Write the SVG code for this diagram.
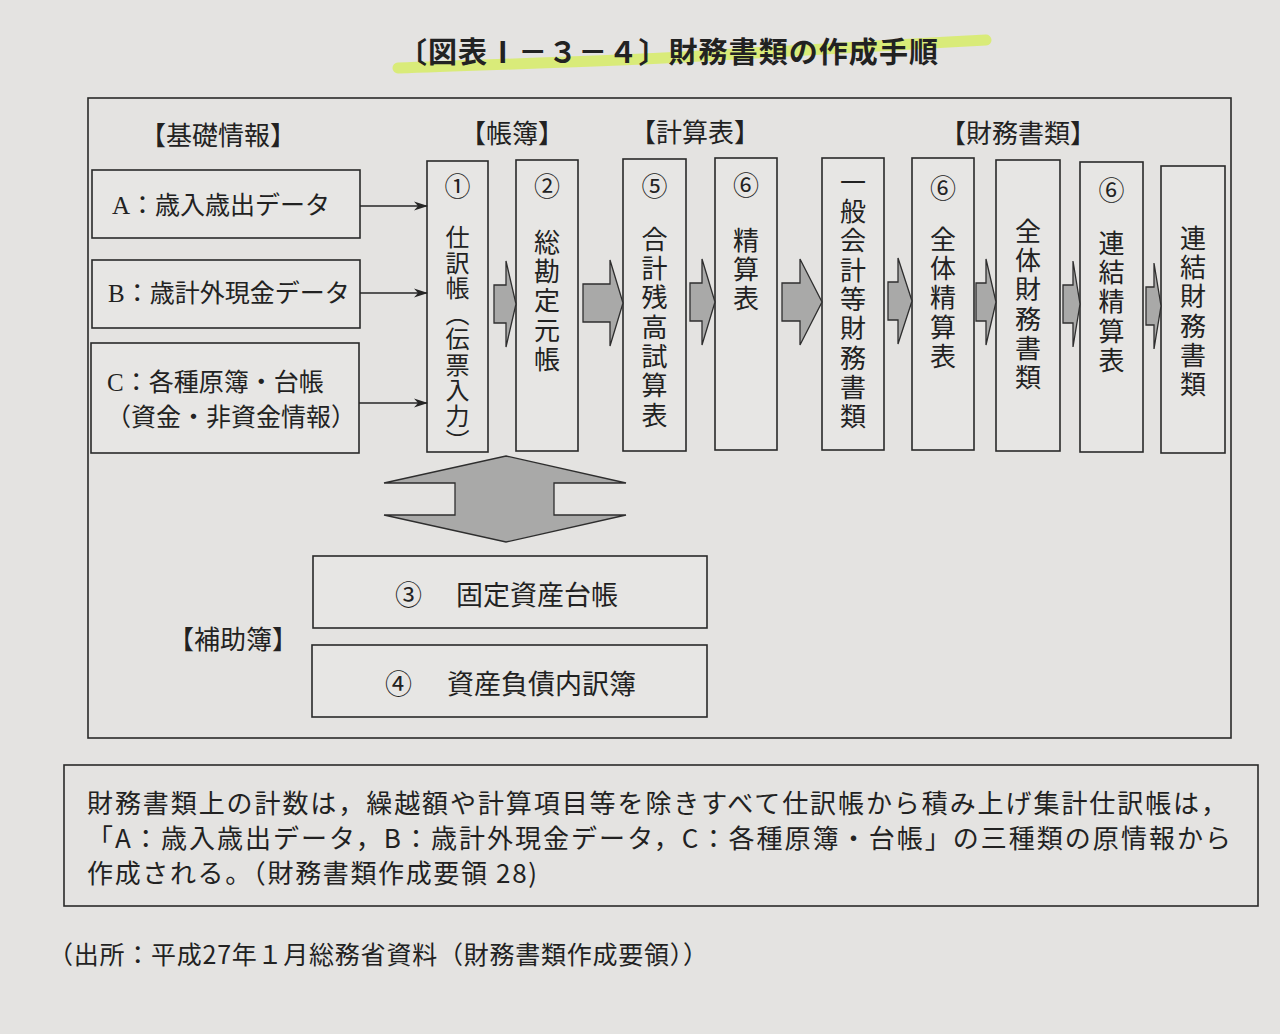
<svg xmlns="http://www.w3.org/2000/svg" width="1280" height="1034" viewBox="0 0 1280 1034">
<defs>
<marker id="ah" markerWidth="14" markerHeight="10" refX="13" refY="5" orient="auto" markerUnits="userSpaceOnUse">
<path d="M0,0.5 L14,5 L0,9.5 L4,5 Z" fill="#262626"/>
</marker>
<style>
.bg{fill:#e4e3e1}
.box{fill:#e7e6e4;stroke:#2a2a2a;stroke-width:1.6}
.frame{fill:none;stroke:#2a2a2a;stroke-width:1.6}
.blk{fill:#a9a9a8;stroke:#2e2e2e;stroke-width:1.3;stroke-linejoin:miter}
.line{stroke:#262626;stroke-width:1.5;fill:none}
text{font-family:"Noto Sans CJK JP","Noto Sans",sans-serif;fill:#222}
.lab{font-size:26px;dominant-baseline:central}
.h{font-size:25px;dominant-baseline:central}
.hs{font-family:"Liberation Serif","Noto Sans CJK JP",serif;font-size:25px;dominant-baseline:central}
.num{font-size:26px;text-anchor:middle;dominant-baseline:central}
.v{font-size:26px;writing-mode:vertical-rl;letter-spacing:3.3px}
.v1{font-size:24px;writing-mode:vertical-rl;letter-spacing:1.5px}
.note{font-size:26px;dominant-baseline:central}
.title{font-size:29px;font-weight:bold;dominant-baseline:central}
</style>
</defs>
<rect class="bg" x="0" y="0" width="1280" height="1034"/>

<g id="title">
<path d="M398,68 C500,64 600,62 700,56 C820,50 900,44 986,40" stroke="#d6ee55" stroke-opacity="0.75" stroke-width="11" fill="none" stroke-linecap="round"/>
<text class="title" x="398" y="50" textLength="540" lengthAdjust="spacing">〔図表Ⅰ－３－４〕財務書類の作成手順</text>
</g>

<rect id="frame" class="frame" x="88" y="98" width="1143" height="640"/>

<g id="section-labels">
<text class="lab" x="140" y="133">【基礎情報】</text>
<text class="lab" x="460" y="131">【帳簿】</text>
<text class="lab" x="630" y="130">【計算表】</text>
<text class="lab" x="940" y="131">【財務書類】</text>
<text class="lab" x="168" y="637">【補助簿】</text>
</g>

<g id="nodeA"><rect class="box" x="92" y="170" width="268" height="68"/><text class="hs" x="112" y="205">A：歳入歳出データ</text></g>
<g id="nodeB"><rect class="box" x="92" y="260" width="268" height="68"/><text class="hs" x="108" y="293">B：歳計外現金データ</text></g>
<g id="nodeC"><rect class="box" x="91" y="343" width="268" height="110"/><text class="hs" x="107" y="382">C：各種原簿・台帳</text><text class="h" x="106" y="415">（資金・非資金情報）</text></g>

<g id="node1"><rect class="box" x="427" y="161" width="61" height="291"/><text class="num" x="457.5" y="184">①</text><text class="v1" x="457.5" y="225">仕訳帳（伝票入力）</text></g>
<g id="node2"><rect class="box" x="516" y="160" width="62" height="291"/><text class="num" x="547" y="184">②</text><text class="v" x="547" y="229">総勘定元帳</text></g>
<g id="node5"><rect class="box" x="623" y="159" width="63" height="292"/><text class="num" x="654.5" y="184">⑤</text><text class="v" x="654.5" y="226">合計残高試算表</text></g>
<g id="node6a"><rect class="box" x="715" y="158" width="62" height="292"/><text class="num" x="746" y="183">⑥</text><text class="v" x="746" y="227">精算表</text></g>
<g id="nodeGen"><rect class="box" x="822" y="158" width="62" height="292"/><text class="v" x="853" y="169">一般会計等財務書類</text></g>
<g id="node6b"><rect class="box" x="912" y="158" width="62" height="292"/><text class="num" x="943" y="186">⑥</text><text class="v" x="943" y="226">全体精算表</text></g>
<g id="nodeAll"><rect class="box" x="996" y="160" width="64" height="291"/><text class="v" x="1028" y="218">全体財務書類</text></g>
<g id="node6c"><rect class="box" x="1080" y="162" width="63" height="290"/><text class="num" x="1111.5" y="188">⑥</text><text class="v" x="1111.5" y="230">連結精算表</text></g>
<g id="nodeCon"><rect class="box" x="1161" y="166" width="64" height="287"/><text class="v" x="1193" y="225">連結財務書類</text></g>

<g id="node3"><rect class="box" x="313" y="556" width="394" height="72"/><text class="note" x="395" y="593" style="font-size:27px">③</text><text class="note" x="456" y="593" style="font-size:27px">固定資産台帳</text></g>
<g id="node4"><rect class="box" x="312" y="645" width="395" height="72"/><text class="note" x="385" y="682" style="font-size:27px">④</text><text class="note" x="447" y="682" style="font-size:27px">資産負債内訳簿</text></g>

<g id="connectors">
<line class="line" x1="360" y1="206" x2="427" y2="206" marker-end="url(#ah)"/>
<line class="line" x1="360" y1="293" x2="427" y2="293" marker-end="url(#ah)"/>
<line class="line" x1="359" y1="403" x2="427" y2="403" marker-end="url(#ah)"/>
<path class="blk" d="M494,285 H506 V261 L516,304 L506,347 V323 H494 Z"/>
<path class="blk" d="M583,284 H610 V260 L623,303 L610,346 V322 H583 Z"/>
<path class="blk" d="M690,283 H702 V259 L715,302 L702,345 V321 H690 Z"/>
<path class="blk" d="M782,283 H800 V259 L822,302 L800,345 V321 H782 Z"/>
<path class="blk" d="M888,282 H898 V258 L912,301 L898,344 V320 H888 Z"/>
<path class="blk" d="M976,283 H986 V259 L996,302 L986,345 V321 H976 Z"/>
<path class="blk" d="M1063,285 H1073 V261 L1080,304 L1073,347 V323 H1063 Z"/>
<path class="blk" d="M1146,287 H1154 V263 L1161,306 L1154,349 V325 H1146 Z"/>
<path class="blk" d="M506,456 L626,483 L554,483 L554,515 L626,515 L506,542 L384,515 L455,515 L455,483 L384,483 Z"/>
</g>

<g id="note">
<rect class="frame" x="64" y="765" width="1194" height="141"/>
<text class="note" x="87" y="801" textLength="1140" lengthAdjust="spacing">財務書類上の計数は，繰越額や計算項目等を除きすべて仕訳帳から積み上げ集計仕訳帳は，</text>
<text class="note" x="87" y="836" textLength="1144" lengthAdjust="spacing">「A：歳入歳出データ，B：歳計外現金データ，C：各種原簿・台帳」の三種類の原情報から</text>
<text class="note" x="87" y="871" textLength="450" lengthAdjust="spacing">作成される。（財務書類作成要領 28)</text>
</g>

<text id="source" class="note" x="48" y="953" style="font-size:25px" textLength="660" lengthAdjust="spacing">（出所：平成27年１月総務省資料（財務書類作成要領））</text>
</svg>
